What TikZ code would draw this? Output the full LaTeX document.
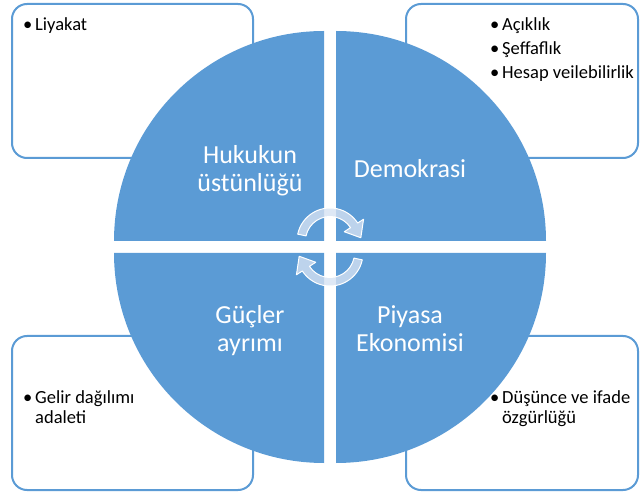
\documentclass[tikz,border=0pt]{standalone}
\usepackage{fontspec}
\setmainfont{Carlito}
\definecolor{quadblue}{HTML}{5B9BD5}
\definecolor{arrowtint}{HTML}{D6E2F2}
\newcommand{\bitem}[1]{\spaceskip=0.23em\relax\hangindent=12pt\hangafter=1\noindent\makebox[12pt][l]{\textbullet}#1\par}

\begin{document}
\begin{tikzpicture}
    [
        x=1pt, y=1pt,
        infobox/.style={rectangle, draw=quadblue, line width=2pt, rounded corners=15pt, fill=white, minimum width=241pt, minimum height=154pt,},
        boxtext/.style={anchor=north west, inner sep=0pt, align=left, font=\fontsize{18.5}{20}\selectfont,},
        quarter/.style={fill=quadblue,},
        quadtext/.style={anchor=north, inner sep=0pt, align=center, text=white, font=\fontsize{26}{28}\selectfont,},
        cyclearrow/.style={fill=arrowtint, fill opacity=0.8, draw=white, line width=1pt, line join=round,},
    ]

    \useasboundingbox (0,0) rectangle (640,493);

    % boxes behind the circle
    \node (tl) at (132.5,412) [infobox] {};
    \node (tr) at (522,412)   [infobox, minimum width=232pt] {};
    \node (bl) at (132.5,80)  [infobox] {};
    \node (br) at (522,80)    [infobox, minimum width=232pt] {};

    \node (tltext) at (23,476)  [boxtext, text width=120pt] {\bitem{Liyakat}};
    \node (trtext) at (490,476) [boxtext, text width=150pt] {\bitem{Açıklık}\vspace{4pt}\bitem{Şeffaflık}\vspace{4pt}\bitem{Hesap veilebilirlik}};
    \node (bltext) at (23,103)  [boxtext, text width=130pt] {\bitem{Gelir dağılımı\newline adaleti}};
    \node (brtext) at (490,103) [boxtext, text width=150pt] {\bitem{Düşünce ve ifade\newline özgürlüğü}};

    % four quarters
    \fill [quarter] (324,252) -- ++(-210,0) arc[start angle=180, end angle=90, radius=210pt] -- cycle;
    \fill [quarter] (336,252) -- ++(0,210) arc[start angle=90, end angle=0, radius=210pt] -- cycle;
    \fill [quarter] (324,240) -- ++(0,-210) arc[start angle=270, end angle=180, radius=210pt] -- cycle;
    \fill [quarter] (336,240) -- ++(210,0) arc[start angle=0, end angle=-90, radius=210pt] -- cycle;

    \node (hukuk) at (250,349) [quadtext] {\strut Hukukun\\üstünlüğü};
    \node (demo)  at (410,335) [quadtext] {\strut Demokrasi};
    \node (guc)   at (250,189) [quadtext] {\strut Güçler\\ayrımı};
    \node (piya)  at (410,189) [quadtext] {\strut Piyasa\\Ekonomisi};

    % cycle arrows
    \coordinate (c1) at (330,252);
    \coordinate (c2) at (330,240);
    \filldraw [cyclearrow] ([shift={(168:33pt)}]c1) arc[start angle=168, end angle=33, radius=33pt]
        -- ([shift={(33:40pt)}]c1) -- ([shift={(6:31pt)}]c1) -- ([shift={(33:17pt)}]c1)
        -- ([shift={(33:24.5pt)}]c1) arc[start angle=33, end angle=168, radius=24.5pt] -- cycle;
    \filldraw [cyclearrow] ([shift={(-12:33pt)}]c2) arc[start angle=-12, end angle=-147, radius=33pt]
        -- ([shift={(-147:40pt)}]c2) -- ([shift={(-174:31pt)}]c2) -- ([shift={(-147:17pt)}]c2)
        -- ([shift={(-147:24.5pt)}]c2) arc[start angle=-147, end angle=-12, radius=24.5pt] -- cycle;
\end{tikzpicture}
\end{document}
